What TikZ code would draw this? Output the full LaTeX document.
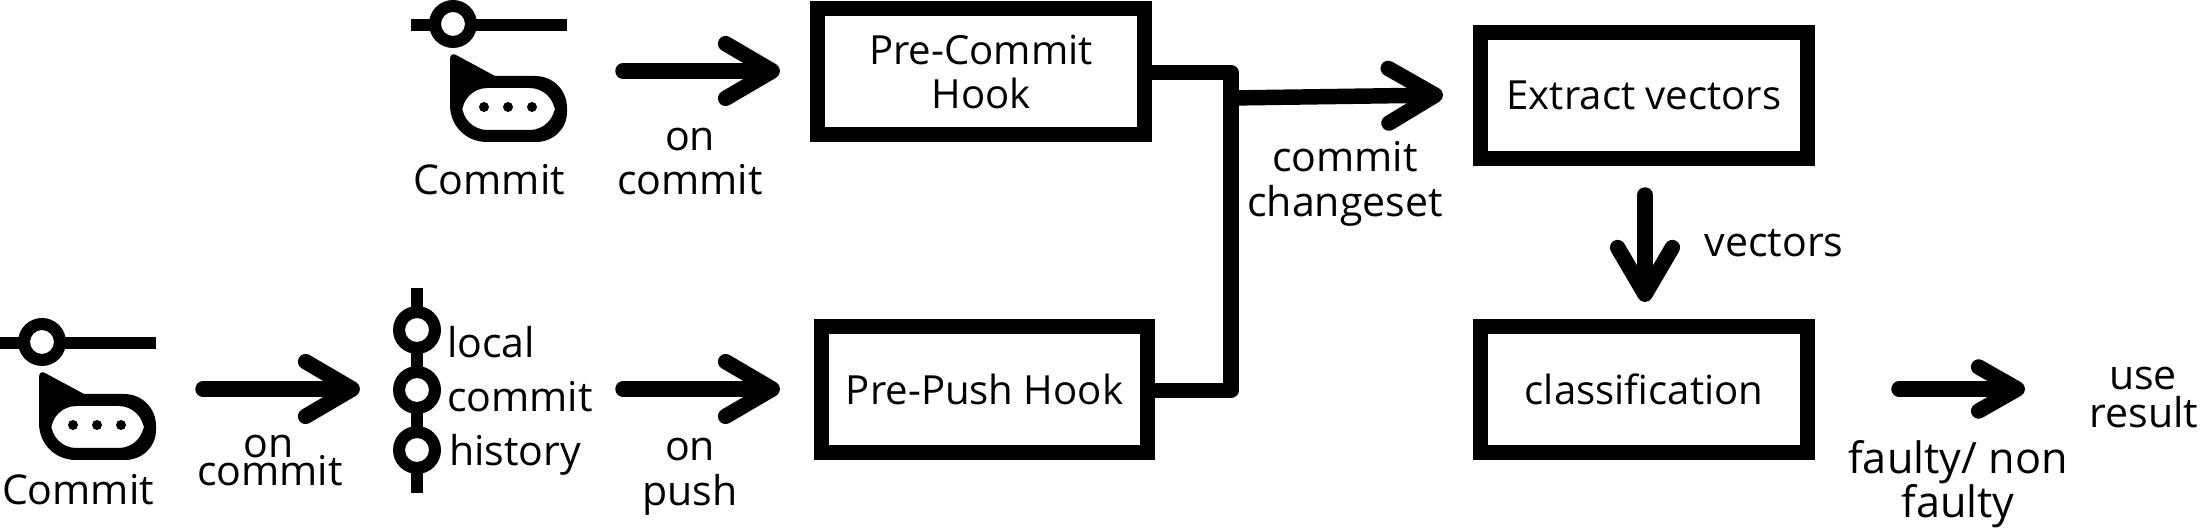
\documentclass[tikz,border=0pt]{standalone}
\usepackage{fontspec}
\setmainfont{Open Sans}
\usetikzlibrary{arrows.meta}
\tikzset{
  x=0.75pt,y=-0.75pt,
  lab/.style={anchor=base,inner sep=0,outer sep=0,font=\fontsize{30.8pt}{36pt}\selectfont},
  labl/.style={lab,anchor=base west},
  labw/.style={lab,font=\fontsize{32.4pt}{36pt}\selectfont},
  hookbox/.style={draw=black,line width=11.6pt,inner sep=0,outer sep=0,font=\fontsize{30.1pt}{33pt}\selectfont,align=center},
  arr/.style={line width=11.6pt,line cap=round,-{Straight Barb[round,length=35pt,width=41pt]}},
  arrs/.style={arr,-{Straight Barb[round,length=29pt,width=33pt]}},
  wire/.style={line width=11.4pt,line join=round},
}
\newcommand{\commiticon}{%
  \fill (411,19) rectangle (435,31);
  \fill (470,19) rectangle (567,31);
  \fill[even odd rule] (453,24) circle (24) (453,24) circle (12);
  \fill[even odd rule] (450,105) -- (450,60) .. controls (450,55) and (452,53) .. (456,55) -- (495,76) -- (535,76)
    .. controls (553,76) and (567,90) .. (567,108) -- (567,112) .. controls (567,129) and (553,142) .. (536,142) -- (487,142)
    .. controls (466,142) and (450,126) .. (450,105) -- cycle
    [rounded corners=19] (462,88) rectangle (555,130);
  \fill (484,107) circle (5) (508,107) circle (5) (532,107) circle (5);
}
\begin{document}
\begin{tikzpicture}
\useasboundingbox (0,0) rectangle (2200,530);
% top icon
\commiticon
% lower icon
\begin{scope}[shift={(-411,318)}]
\commiticon
\end{scope}
\node[lab] (commitA) at (489,195) {Commit};
\node[lab] (commitB) at (78,505) {Commit};
% boxes
\node[hookbox,minimum width=245.25pt,minimum height=94.5pt] (precommit) at (981,71.5) {Pre-Commit\\Hook};
\node[hookbox,minimum width=244.5pt,minimum height=94.5pt] (prepush) at (984.5,389.5) {Pre-Push Hook};
\node[hookbox,minimum width=245.25pt,minimum height=94.5pt] (extract) at (1644,95.5) {Extract vectors};
\node[hookbox,minimum width=245.25pt,minimum height=94.5pt] (classif) at (1644,389.5) {classification};
% timeline
\draw[line width=9.5pt] (417,288) -- (417,493);
\foreach \n/\yy in {h1/330,h2/390,h3/450}{
  \fill[white] (417,\yy) circle (18);
  \fill[even odd rule] (417,\yy) circle (24) (417,\yy) circle (12);
  \coordinate (\n) at (417,\yy);
}
\node[labl] (t1) at (447,358) {local};
\node[labl] (t2) at (447,412) {commit};
\node[labl] (t3) at (449,466) {history};
% arrows
\coordinate (a1s) at (623,71); \coordinate (a1e) at (780,71);
\draw[arr] (a1s) -- (a1e);
\coordinate (a2s) at (203,389); \coordinate (a2e) at (360,389);
\draw[arr] (a2s) -- (a2e);
\coordinate (a3s) at (623,389); \coordinate (a3e) at (780,389);
\draw[arr] (a3s) -- (a3e);
\coordinate (a4s) at (1645,195); \coordinate (a4e) at (1645,302);
\draw[arr] (a4s) -- (a4e);
\coordinate (a5s) at (1899,389); \coordinate (a5e) at (2025,389);
\draw[arrs] (a5s) -- (a5e);
% merge
\coordinate (j1) at (1231,72.5); \coordinate (j2) at (1231,390.5);
\coordinate (a6s) at (1231,98); \coordinate (a6e) at (1443,95);
\draw[wire] (precommit.east |- j1) -- (j1) -- (j2) -- (prepush.east |- j2);
\draw[arr,line cap=butt] (a6s) -- (a6e);
% labels
\node[lab] (l1) at (690,151) {on};
\node[lab] (l2) at (690,195) {commit};
\node[lab] (l3) at (269,458) {on};
\node[lab] (l4) at (270,486) {commit};
\node[lab] (l5) at (690,461) {on};
\node[lab] (l6) at (690,506) {push};
\node[lab] (l7) at (1345,172) {commit};
\node[lab] (l8) at (1345,217) {changeset};
\node[lab] (l9) at (1774,257) {vectors};
\node[lab] (l10) at (2143,390) {use};
\node[lab] (l11) at (2144,428) {result};
\node[labw] (l12) at (1958,474) {faulty/ non};
\node[labw] (l13) at (1958,518) {faulty};
\end{tikzpicture}
\end{document}
